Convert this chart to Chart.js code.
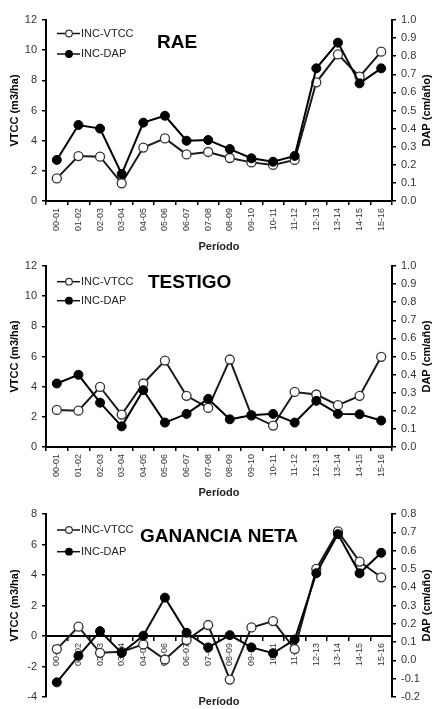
<!DOCTYPE html>
<html>
<head>
<meta charset="utf-8">
<script src="https://cdn.jsdelivr.net/npm/chart.js@4"></script>
<style>
  body { margin: 0; background: #fff; }
  canvas { position: absolute; left: 0; }
</style>
</head>
<body>
<canvas id="rae" width="433" height="254" style="top:0px"></canvas>
<canvas id="testigo" width="433" height="246" style="top:254px"></canvas>
<canvas id="ganancia" width="433" height="209" style="top:500px"></canvas>
<script>
// periodos
var periodos = ['00-01', '01-02', '02-03', '03-04', '04-05', '05-06', '06-07', '07-08',
                '08-09', '09-10', '10-11', '11-12', '12-13', '13-14', '14-15', '15-16'];

// RAE
var raeVtcc = [1.50, 2.98, 2.94, 1.17, 3.54, 4.15, 3.09, 3.25, 2.85, 2.56, 2.39, 2.72, 7.87, 9.72, 8.24, 9.90];
var raeDap = [0.227, 0.420, 0.400, 0.149, 0.433, 0.471, 0.333, 0.337, 0.287, 0.236, 0.217, 0.249, 0.733, 0.875, 0.650, 0.733];

// TESTIGO
var testigoVtcc = [2.46, 2.41, 3.98, 2.15, 4.21, 5.73, 3.39, 2.59, 5.80, 2.10, 1.42, 3.65, 3.48, 2.77, 3.39, 5.98];
var testigoDap = [0.351, 0.399, 0.245, 0.114, 0.314, 0.135, 0.183, 0.266, 0.153, 0.175, 0.183, 0.135, 0.255, 0.183, 0.181, 0.146];

// GANANCIA NETA
var gananciaVtcc = [-0.86, 0.61, -1.10, -1.04, -0.55, -1.54, -0.27, 0.72, -2.86, 0.56, 0.98, -0.86, 4.40, 6.86, 4.88, 3.85];
var gananciaDap = [-0.120, 0.025, 0.160, 0.041, 0.135, 0.343, 0.151, 0.071, 0.138, 0.071, 0.039, 0.114, 0.476, 0.690, 0.476, 0.588];

var fuente = 'Arial, "Liberation Sans", sans-serif';

// titulo del panel, leyenda y titulo del eje derecho
var textosPanel = {
    id: 'textosPanel',
    afterDraw: function (chart, args, opts) {
        var ctx = chart.ctx;
        var a = chart.chartArea;
        ctx.save();
        ctx.textBaseline = 'middle';
        ctx.textAlign = 'left';
        ctx.fillStyle = '#000';
        ctx.font = 'bold 19px ' + fuente;
        ctx.fillText(opts.titulo, a.left + opts.tx, a.top + opts.ty);

        var series = [
            { texto: 'INC-VTCC', relleno: '#fff', borde: '#333' },
            { texto: 'INC-DAP', relleno: '#000', borde: '#000' }
        ];
        var x0 = a.left + 11;
        ctx.font = '11px ' + fuente;
        series.forEach(function (s, i) {
            var y = a.top + opts.ly[i];
            ctx.strokeStyle = '#111';
            ctx.lineWidth = 1.5;
            ctx.beginPath();
            ctx.moveTo(x0, y);
            ctx.lineTo(x0 + 23, y);
            ctx.stroke();
            ctx.beginPath();
            ctx.arc(x0 + 12, y, 3.3, 0, Math.PI * 2);
            ctx.fillStyle = s.relleno;
            ctx.fill();
            ctx.strokeStyle = s.borde;
            ctx.lineWidth = 1.2;
            ctx.stroke();
            ctx.fillStyle = '#222';
            ctx.fillText(s.texto, x0 + 24, y);
        });

        ctx.translate(427, (a.top + a.bottom) / 2);
        ctx.rotate(-Math.PI / 2);
        ctx.textAlign = 'center';
        ctx.fillStyle = '#000';
        ctx.font = 'bold 11px ' + fuente;
        ctx.fillText('DAP (cm/año)', 0, 0);
        ctx.restore();
    }
};

function ejeY(min, max, paso, dec, ancho) {
    return {
        min: min,
        max: max,
        ticks: {
            stepSize: paso,
            color: '#333',
            padding: 5,
            font: { family: fuente, size: 11 },
            callback: function (v) { return v.toFixed(dec); }
        },
        grid: { drawOnChartArea: false, color: '#000', lineWidth: 1.5, tickLength: 4 },
        border: { color: '#000', width: 2 },
        afterFit: function (s) { s.width = ancho; }
    };
}

function crearPanel(id, vtcc, dap, ops) {
    var escalas = {
        x: {
            type: 'category',
            offset: true,
            position: ops.ejeX,
            ticks: {
                autoSkip: false,
                maxRotation: 90,
                minRotation: 90,
                padding: 3,
                color: '#333',
                font: { family: fuente, size: 9 }
            },
            grid: { offset: true, drawOnChartArea: false, color: '#000', lineWidth: 1.5, tickLength: 4 },
            border: { color: '#000', width: 2 },
            title: {
                display: ops.ejeX === 'bottom',
                text: 'Período',
                color: '#222',
                padding: 0,
                font: { family: fuente, size: 11, weight: 'bold' }
            },
            afterFit: function (s) { s.height = ops.altoX; }
        },
        y: ejeY(ops.yMin, ops.yMax, ops.yPaso, 0, 46),
        y1: ejeY(ops.dMin, ops.dMax, 0.1, 1, 41)
    };
    escalas.y.position = 'left';
    escalas.y.title = {
        display: true,
        text: 'VTCC (m3/ha)',
        color: '#000',
        padding: { top: 8, bottom: 0 },
        font: { family: fuente, size: 11, weight: 'bold' }
    };
    escalas.y1.position = 'right';

    // eje de categorias sobre el cero: el titulo va en un eje aparte abajo
    if (ops.ejeX !== 'bottom') {
        escalas.x2 = {
            type: 'category',
            position: 'bottom',
            ticks: { display: false },
            grid: { display: false },
            border: { display: false },
            title: {
                display: true,
                text: 'Período',
                color: '#222',
                padding: 0,
                font: { family: fuente, size: 11, weight: 'bold' }
            },
            afterFit: function (s) { s.height = 12; }
        };
    }

    return new Chart(document.getElementById(id), {
        type: 'line',
        data: {
            labels: periodos,
            datasets: [{
                label: 'INC-VTCC',
                data: vtcc,
                yAxisID: 'y',
                order: 1,
                borderColor: '#1a1a1a',
                borderWidth: 2,
                pointRadius: 4.5,
                pointBackgroundColor: '#fff',
                pointBorderColor: '#333',
                pointBorderWidth: 1.3,
                tension: 0
            }, {
                label: 'INC-DAP',
                data: dap,
                yAxisID: 'y1',
                order: 0,
                borderColor: '#000',
                borderWidth: 2,
                pointRadius: 4.5,
                pointBackgroundColor: '#000',
                pointBorderColor: '#000',
                pointBorderWidth: 1,
                tension: 0
            }]
        },
        options: {
            responsive: false,
            animation: false,
            layout: { padding: { top: ops.arriba, right: 0, bottom: 0, left: 0 } },
            scales: escalas,
            plugins: {
                legend: { display: false },
                tooltip: { enabled: false },
                textosPanel: ops.textos
            }
        },
        plugins: [textosPanel]
    });
}

crearPanel('rae', raeVtcc, raeDap, {
    arriba: 20, ejeX: 'bottom', altoX: 53,
    yMin: 0, yMax: 12, yPaso: 2, dMin: 0, dMax: 1,
    textos: { titulo: 'RAE', tx: 111, ty: 23, ly: [13.5, 34] }
});

crearPanel('testigo', testigoVtcc, testigoDap, {
    arriba: 12, ejeX: 'bottom', altoX: 53,
    yMin: 0, yMax: 12, yPaso: 2, dMin: 0, dMax: 1,
    textos: { titulo: 'TESTIGO', tx: 102, ty: 17, ly: [15.7, 34.7] }
});

crearPanel('ganancia', gananciaVtcc, gananciaDap, {
    arriba: 14, ejeX: { y: 0 }, altoX: 0,
    yMin: -4, yMax: 8, yPaso: 2, dMin: -0.2, dMax: 0.8,
    textos: { titulo: 'GANANCIA NETA', tx: 94, ty: 23, ly: [16, 37.7] }
});
</script>
</body>
</html>
